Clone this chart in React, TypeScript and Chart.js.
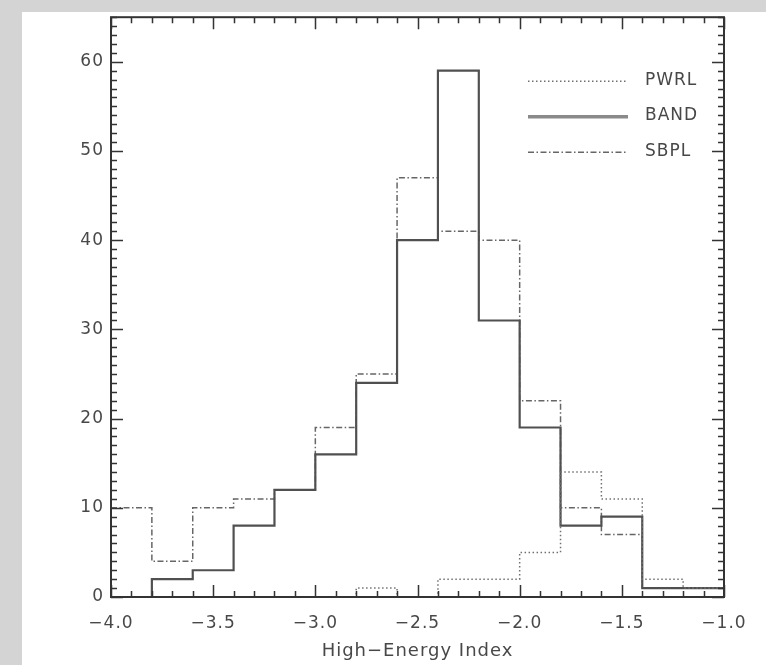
import React, { useEffect, useRef } from "react";
import { Chart, registerables } from "chart.js";

Chart.register(...registerables);

// Histogram bin edges (High-Energy Index)
const binEdges = [-4.0, -3.8, -3.6, -3.4, -3.2, -3.0, -2.8, -2.6, -2.4, -2.2, -2.0, -1.8, -1.6, -1.4, -1.2, -1.0];
// Counts per bin for each model
const pwrlCounts = [0, 0, 0, 0, 0, 0, 1, 0, 2, 2, 5, 14, 11, 2, 1];
const bandCounts = [0, 2, 3, 8, 12, 16, 24, 40, 59, 31, 19, 8, 9, 1, 1];
const sbplCounts = [10, 4, 10, 11, 12, 19, 25, 47, 41, 40, 22, 10, 7, 1, 1];
const seriesNames = ["PWRL", "BAND", "SBPL"];
const xAxisTitle = "High\u2212Energy Index";

const FONT = "'DejaVu Sans', sans-serif";
const TEXT = "#484848";

function stepPoints(counts: number[]) {
  const pts = counts.map((c, i) => ({ x: binEdges[i], y: c }));
  pts.push({ x: binEdges[binEdges.length - 1], y: counts[counts.length - 1] });
  return pts;
}

const framePlugin = {
  id: "idlFrame",
  beforeDraw(chart: any) {
    chart.ctx.letterSpacing = "1px";
  },
  afterDraw(chart: any) {
    const { ctx, chartArea: a } = chart;
    const x = chart.scales.x;
    const y = chart.scales.y;
    ctx.save();
    ctx.letterSpacing = "1px";
    ctx.setLineDash([]);
    ctx.strokeStyle = "#333";
    ctx.lineWidth = 1.5;
    ctx.beginPath();
    for (let k = 0; k <= 30; k++) {
      const v = x.min + k * 0.1;
      const px = Math.round(x.getPixelForValue(v)) + 0.5;
      const len = k % 5 === 0 ? 12 : 6;
      ctx.moveTo(px, a.bottom);
      ctx.lineTo(px, a.bottom - len);
      ctx.moveTo(px, a.top);
      ctx.lineTo(px, a.top + len);
    }
    for (let k = 0; k <= 65; k++) {
      const py = Math.round(y.getPixelForValue(k)) + 0.5;
      const len = k % 10 === 0 ? 12 : 6;
      ctx.moveTo(a.left, py);
      ctx.lineTo(a.left + len, py);
      ctx.moveTo(a.right, py);
      ctx.lineTo(a.right - len, py);
    }
    ctx.stroke();
    ctx.lineWidth = 2;
    ctx.strokeRect(a.left, a.top, a.right - a.left, a.bottom - a.top);

    // legend inside plot, top right
    const ds = chart.data.datasets;
    const lx0 = a.left + 417;
    const lx1 = a.left + 517;
    const tx = a.left + 534;
    for (let i = 0; i < ds.length; i++) {
      const d = ds[i];
      const ly = a.top + 64 + i * 35.5;
      ctx.beginPath();
      ctx.setLineDash(d.borderDash || []);
      ctx.strokeStyle = i === 1 ? "#8a8a8a" : d.borderColor;
      ctx.lineWidth = i === 1 ? 3.5 : d.borderWidth;
      ctx.moveTo(lx0, ly);
      ctx.lineTo(lx1, ly);
      ctx.stroke();
      ctx.setLineDash([]);
      ctx.fillStyle = TEXT;
      ctx.font = `17px ${FONT}`;
      ctx.textAlign = "left";
      ctx.textBaseline = "middle";
      ctx.fillText(d.label, tx, ly - 1);
    }
    ctx.restore();
  },
};

function fmtX(v: number) {
  const s = Number(v).toFixed(1);
  return s.replace("-", "\u2212");
}

export default function App() {
  const ref = useRef<HTMLCanvasElement>(null);
  useEffect(() => {
    const canvas = ref.current;
    if (!canvas) return;
    const chart = new Chart(canvas, {
      type: "line",
      data: {
        datasets: [
          {
            label: seriesNames[0],
            data: stepPoints(pwrlCounts),
            borderColor: "#707070",
            borderWidth: 1.5,
            borderDash: [1.5, 2.5],
            stepped: true,
            pointRadius: 0,
            fill: false,
          },
          {
            label: seriesNames[1],
            data: stepPoints(bandCounts),
            borderColor: "#505050",
            borderWidth: 2.2,
            stepped: true,
            pointRadius: 0,
            fill: false,
          },
          {
            label: seriesNames[2],
            data: stepPoints(sbplCounts),
            borderColor: "#666666",
            borderWidth: 1.5,
            borderDash: [6, 2.5, 1.5, 2.5],
            stepped: true,
            pointRadius: 0,
            fill: false,
          },
        ],
      } as any,
      options: {
        animation: false,
        responsive: false,
        maintainAspectRatio: false,
        layout: { padding: { left: 0, right: 42, top: 13, bottom: 0 } },
        plugins: { legend: { display: false }, tooltip: { enabled: false } },
        scales: {
          x: {
            type: "linear",
            min: -4,
            max: -1,
            grid: { display: false, drawTicks: false },
            border: { display: false },
            ticks: {
              stepSize: 0.5,
              padding: 16,
              maxRotation: 0,
              minRotation: 0,
              autoSkip: false,
              color: TEXT,
              font: { family: FONT, size: 17 },
              callback: (v: any) => fmtX(v),
            },
            title: {
              display: true,
              text: xAxisTitle,
              color: TEXT,
              font: { family: FONT, size: 18 },
              padding: { top: 0, bottom: 3 },
            },
            afterFit: (s: any) => {
              s.height = 68;
            },
          },
          y: {
            type: "linear",
            min: 0,
            max: 65,
            grid: { display: false, drawTicks: false },
            border: { display: false },
            ticks: {
              stepSize: 10,
              includeBounds: false,
              padding: 7,
              color: TEXT,
              font: { family: FONT, size: 17 },
              callback: (v: any) => (Number(v) % 10 === 0 ? String(v) : ""),
            },
            afterFit: (s: any) => {
              s.width = 111;
            },
          },
        },
      } as any,
      plugins: [framePlugin as any],
    });
    return () => chart.destroy();
  }, []);

  return (
    <div
      style={{
        position: "fixed",
        left: 0,
        top: 0,
        width: 766,
        height: 665,
        background: "#d4d4d4",
        overflow: "hidden",
      }}
    >
      <div style={{ position: "absolute", left: 22, top: 12, right: 0, bottom: 0, background: "#ffffff" }} />
      <canvas
        ref={ref}
        width={766}
        height={665}
        style={{ position: "absolute", left: 0, top: 0, width: 766, height: 665 }}
      />
    </div>
  );
}
